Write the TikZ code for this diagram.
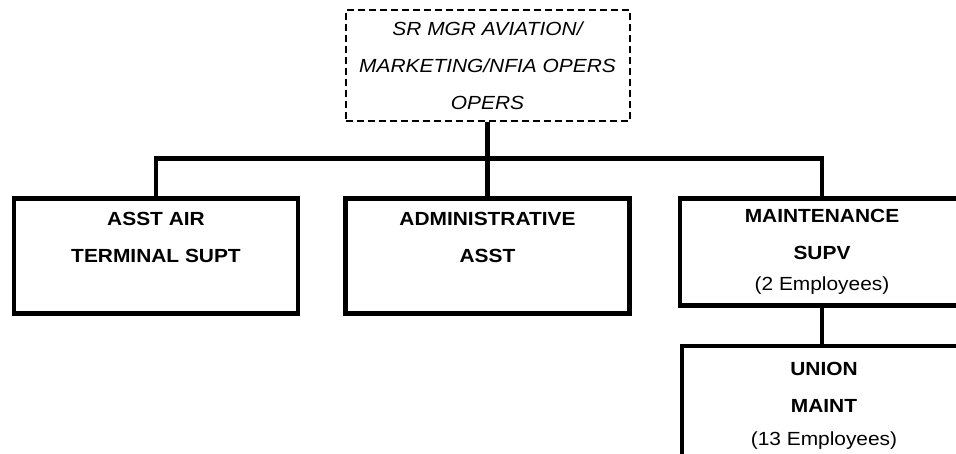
\documentclass[tikz,border=0pt]{standalone}
\usepackage{fontspec}
\setmainfont{Liberation Sans}[FakeStretch=1.1]
\usepackage{tikz}
\usetikzlibrary{positioning,calc}

\begin{document}
\begin{tikzpicture}[
  x=1pt, y=1pt,
  every node/.style={font=\fontsize{19}{37}\selectfont},
  head/.style={draw, dash pattern=on 7pt off 4pt, line width=2pt, minimum width=284pt, minimum height=111pt, align=center, font=\fontsize{19}{37}\selectfont\itshape},
  unit/.style={draw, line width=4.5pt, minimum width=284pt, minimum height=115pt, align=center, font=\fontsize{19}{37}\selectfont\bfseries},
  link/.style={line width=4.5pt},
  node distance=74pt and 46pt
]
\useasboundingbox (0,0) rectangle (956,-454);
\clip (0,0) rectangle (956,-454);

\node[head] (sr) at (487.5,-66) {SR MGR AVIATION/\\MARKETING/NFIA OPERS\\OPERS};

\node[unit, below=74pt of sr] (admin) {ADMINISTRATIVE\\ASST\\ };
\node[unit, left=43pt of admin] (asst) {ASST AIR\\TERMINAL SUPT\\ };
\node[unit, right=of admin.north east, anchor=north west, minimum height=107pt] (maint) {MAINTENANCE\\SUPV\\[-6pt]{\mdseries (2 Employees)}};
\node[unit, below=36pt of maint, xshift=2pt, minimum height=120pt] (union) {UNION\\MAINT\\[-4pt]{\mdseries (13 Employees)}};

\draw[link] (sr.south) -- ++(0,-36) coordinate (split);
\draw[link] (asst.north) |- (split) -| (maint.north);
\draw[link] (split) -- (admin.north);
\draw[link] (maint.south) -- (maint.south |- union.north);
\end{tikzpicture}
\end{document}
